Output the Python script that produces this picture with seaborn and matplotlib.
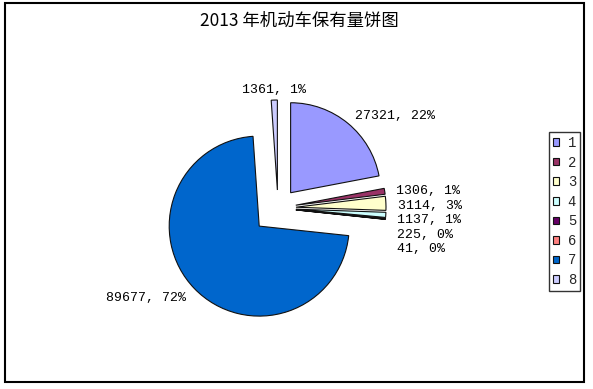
import numpy as np
import matplotlib
matplotlib.use("Agg")
import matplotlib.pyplot as plt
import matplotlib.patches as mpatches
import seaborn as sns

# Dados do gráfico (2013)
categorias = ['1', '2', '3', '4', '5', '6', '7', '8']
valores = [27321, 1306, 3114, 1137, 225, 41, 89677, 1361]
cores = ['#9999FF', '#993366', '#FFFFCC', '#CCFFFF', '#660066', '#FF8080', '#0066CC', '#CCCCFF']
titulo = '2013 年机动车保有量饼图'

# estilo
explode = [0.22, 0.2, 0.2, 0.2, 0.2, 0.2, 0.29, 0.2]
sns.set_theme(style="white")
plt.rcParams['font.family'] = ['Liberation Mono', 'DejaVu Sans']
paleta = sns.color_palette(cores)

W, H = 593, 389
R = 90.0            # raio em pixels
CX, CY = 278, 208   # centro da pizza (pixels, a partir do topo)

fig = plt.figure(figsize=(W / 100, H / 100), dpi=100)
fig.patch.set_facecolor('white')
ax = fig.add_axes([0, 0, 1, 1])

wedges, _ = ax.pie(valores, colors=paleta, explode=explode, startangle=90,
                   counterclock=False, radius=1,
                   wedgeprops=dict(edgecolor='#111111', linewidth=0.8))
ax.set_aspect('auto')
ax.set_xlim(-CX / R, (W - CX) / R)
ax.set_ylim(-(H - CY) / R, CY / R)
ax.axis('off')

# rótulos "valor, pct%" fora das fatias, empilhados quando se sobrepõem
total = sum(valores)
passo = 0.162
prev_y = None
prev_side = None
for w, v, ex in zip(wedges, valores, explode):
    ang = np.deg2rad((w.theta1 + w.theta2) / 2)
    cx, cy = ex * np.cos(ang), ex * np.sin(ang)
    x = cx + 1.13 * np.cos(ang)
    y = cy + 1.13 * np.sin(ang)
    c = np.cos(ang)
    side = 'left' if c > 0.1 else ('right' if c < -0.1 else 'center')
    if side == 'left' and prev_side == 'left' and y > prev_y - passo:
        y = prev_y - passo
    prev_y, prev_side = y, side
    pct = int(round(v / total * 100))
    ax.text(x, y, f'{v}, {pct}%', ha=side, va='center_baseline', fontsize=9.5, color='black')

fig.text(299 / W, 1 - 21 / H, titulo, ha='center', va='center', fontsize=12.5,
         family=['Noto Sans CJK SC', 'DejaVu Sans'], color='black')

handles = [mpatches.Patch(facecolor=col, edgecolor='#111111', linewidth=0.8) for col in paleta]
leg = fig.legend(handles, categorias, loc='center left',
                 bbox_to_anchor=(549 / W, 1 - 211.5 / H), borderaxespad=0,
                 frameon=True, fancybox=False, shadow=False, fontsize=10,
                 handlelength=0.45, handleheight=0.45, handletextpad=0.6,
                 labelspacing=0.4, borderpad=0.3)
leg.get_frame().set_edgecolor('black')
leg.get_frame().set_linewidth(1.0)

# moldura externa
borda = mpatches.Rectangle((5 / W, (H - 382) / H), 579 / W, 379 / H,
                           transform=fig.transFigure, fill=False,
                           edgecolor='black', linewidth=1.5)
fig.patches.append(borda)

fig.savefig('out.png', dpi=100, facecolor='white')
